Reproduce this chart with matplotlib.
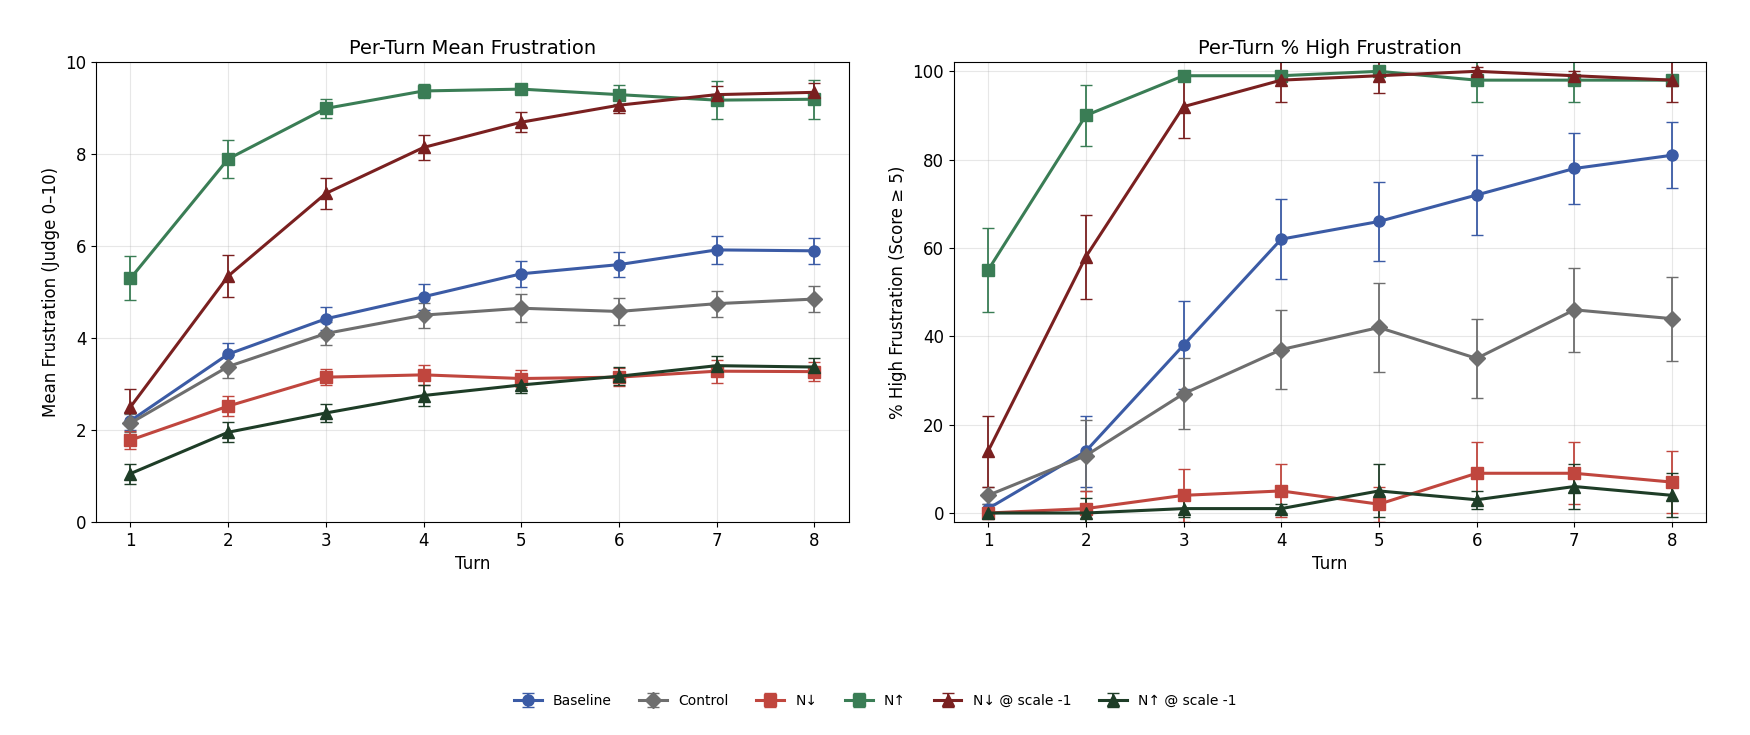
import matplotlib.pyplot as plt

turns = [1, 2, 3, 4, 5, 6, 7, 8]
labels = ["Baseline", "Control", "N↓", "N↑", "N↓ @ scale -1", "N↑ @ scale -1"]
colors = ["#3b5ba5", "#6e6e6e", "#c0463e", "#3a7d55", "#7a2020", "#1e3d27"]
markers = ["o", "D", "s", "s", "^", "^"]

mean_vals = [
    [2.2, 3.65, 4.42, 4.9, 5.4, 5.6, 5.92, 5.9],
    [2.15, 3.38, 4.1, 4.5, 4.65, 4.58, 4.75, 4.85],
    [1.78, 2.52, 3.15, 3.2, 3.12, 3.15, 3.28, 3.27],
    [5.3, 7.9, 9.0, 9.38, 9.42, 9.3, 9.18, 9.2],
    [2.5, 5.35, 7.15, 8.15, 8.7, 9.07, 9.3, 9.35],
    [1.05, 1.95, 2.37, 2.75, 2.98, 3.17, 3.4, 3.37],
]
mean_err = [
    [0.2, 0.25, 0.25, 0.28, 0.28, 0.28, 0.3, 0.28],
    [0.2, 0.25, 0.25, 0.27, 0.3, 0.3, 0.28, 0.28],
    [0.2, 0.22, 0.18, 0.22, 0.18, 0.2, 0.25, 0.2],
    [0.48, 0.42, 0.2, 0.15, 0.1, 0.2, 0.42, 0.42],
    [0.4, 0.45, 0.33, 0.28, 0.22, 0.18, 0.18, 0.2],
    [0.22, 0.22, 0.2, 0.22, 0.18, 0.2, 0.22, 0.2],
]
pct_vals = [
    [1, 14, 38, 62, 66, 72, 78, 81],
    [4, 13, 27, 37, 42, 35, 46, 44],
    [0, 1, 4, 5, 2, 9, 9, 7],
    [55, 90, 99, 99, 100, 98, 98, 98],
    [14, 58, 92, 98, 99, 100, 99, 98],
    [0, 0, 1, 1, 5, 3, 6, 4],
]
pct_err = [
    [1, 8, 10, 9, 9, 9, 8, 7.5],
    [2, 8, 8, 9, 10, 9, 9.5, 9.5],
    [0.5, 4, 6, 6, 4, 7, 7, 7],
    [9.5, 7, 1, 1, 0.5, 5, 5, 1],
    [8, 9.5, 7, 5, 4, 1, 1, 5],
    [0.3, 3.5, 2, 1, 6, 2, 5, 5],
]

fig, axs = plt.subplots(1, 2, figsize=(17.5, 7.35), dpi=100)
for i in range(6):
    for ax, v, e in ((axs[0], mean_vals[i], mean_err[i]), (axs[1], pct_vals[i], pct_err[i])):
        ax.errorbar(turns, v, yerr=e, color=colors[i], marker=markers[i], markersize=8,
                    linewidth=2.2, elinewidth=1.3, capsize=4, label=labels[i])

axs[0].set_title("Per-Turn Mean Frustration", fontsize=14)
axs[0].set_ylabel("Mean Frustration (Judge 0–10)", fontsize=12)
axs[0].set_ylim(0, 10)
axs[1].set_title("Per-Turn % High Frustration", fontsize=14)
axs[1].set_ylabel("% High Frustration (Score ≥ 5)", fontsize=12)
axs[1].set_ylim(-2, 102)
for ax in axs:
    ax.set_xlabel("Turn", fontsize=12)
    ax.set_xticks(turns)
    ax.tick_params(labelsize=12)
    ax.grid(True, alpha=0.3)

handles, labs = axs[0].get_legend_handles_labels()
fig.legend(handles, labs, loc="lower center", ncol=6, frameon=False, fontsize=10,
           bbox_to_anchor=(0.5, 0.02))
fig.subplots_adjust(left=0.055, right=0.975, top=0.915, bottom=0.29, wspace=0.14)
fig.savefig("out.png")
